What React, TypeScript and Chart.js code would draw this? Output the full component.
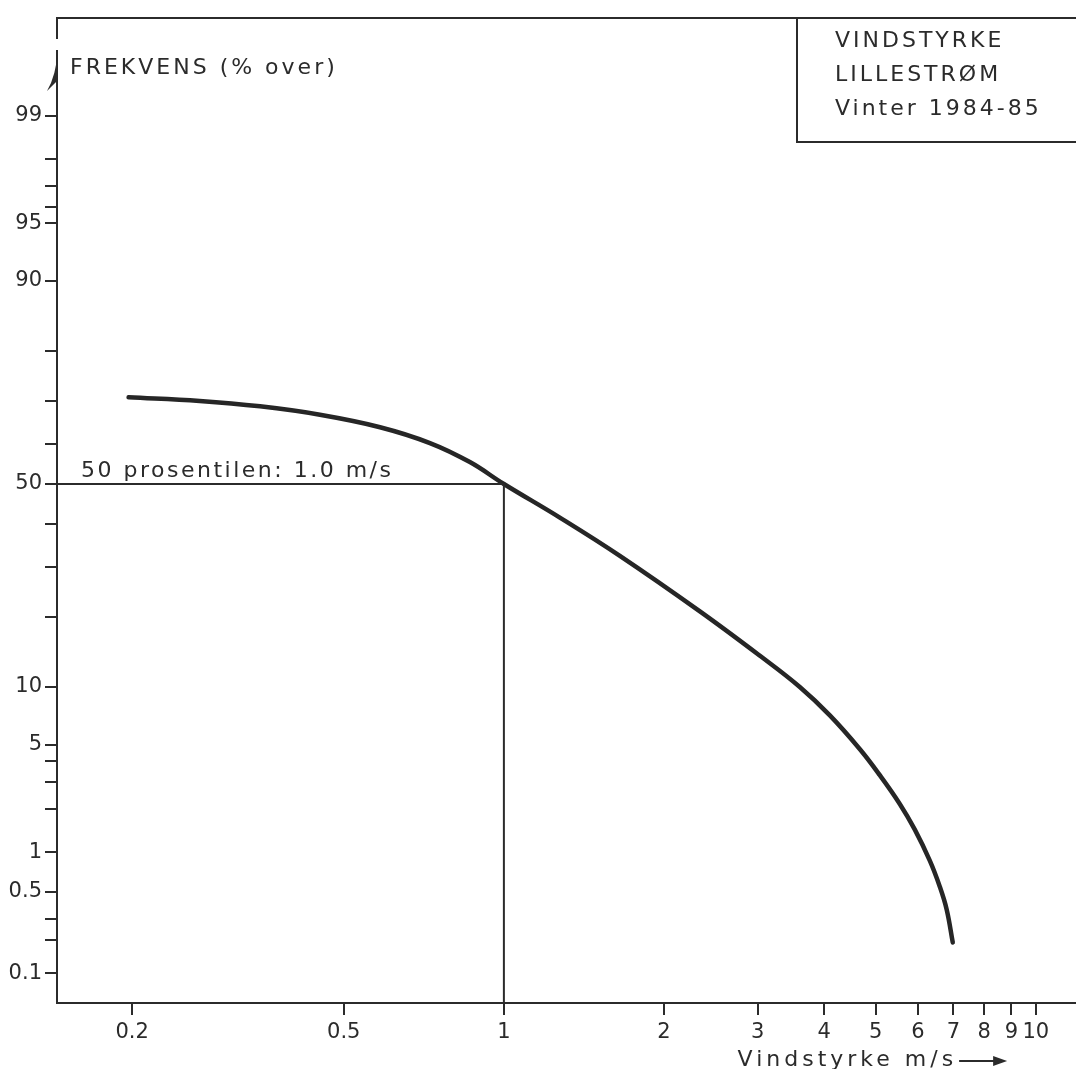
import React, { useEffect, useRef } from 'react';
import { Chart, Scale, registerables } from 'chart.js';

// ---------- data ----------
const windSpeed = [0.197, 0.268, 0.348, 0.451, 0.585, 0.726, 0.863, 1.0, 1.274, 1.652, 2.336, 3.03, 3.6, 4.1, 4.67, 5.09, 5.55, 5.92, 6.32, 6.6, 6.8, 6.98];
const frequencyOver = [70.8, 70.0, 68.8, 66.9, 64.0, 60.2, 55.5, 50, 41.6, 32.5, 21.06, 13.9, 10.0, 7.2, 4.7, 3.3, 2.17, 1.46, 0.87, 0.55, 0.36, 0.19];
const medianSpeed = 1.0;
const medianPercent = 50;

const xTickValues = [0.2, 0.5, 1, 2, 3, 4, 5, 6, 7, 8, 9, 10];
const xTickLabels = ['0.2', '0.5', '1', '2', '3', '4', '5', '6', '7', '8', '9', '10'];
const yTickValues = [0.1, 0.2, 0.3, 0.5, 1, 2, 3, 4, 5, 10, 20, 30, 40, 50, 60, 70, 80, 90, 95, 96, 97, 98, 99];
const yTickLabels = ['0.1', '', '', '0.5', '1', '', '', '', '5', '10', '', '', '', '50', '', '', '', '90', '95', '', '', '', '99'];

const xMin = 0.1445;
const xMax = 11.9;
const yMin = 0.0525;
const yMax = 99.837;

const titleLines = ['VINDSTYRKE', 'LILLESTRØM', 'Vinter 1984-85'];
const yAxisTitle = 'FREKVENS (% over)';
const xAxisTitle = 'Vindstyrke m/s';
const medianLabel = '50 prosentilen: 1.0 m/s';

const INK = '#2b2b2b';
const FONT = '"DejaVu Sans", sans-serif';

// ---------- normal probability helpers ----------
function probit(p: number): number {
  const a = [-3.969683028665376e1, 2.209460984245205e2, -2.759285104469687e2, 1.38357751867269e2, -3.066479806614716e1, 2.506628277459239];
  const b = [-5.447609879822406e1, 1.615858368580409e2, -1.556989798598866e2, 6.680131188771972e1, -1.328068155288572e1];
  const c = [-7.784894002430293e-3, -3.223964580411365e-1, -2.400758277161838, -2.549732539343734, 4.374664141464968, 2.938163982698783];
  const d = [7.784695709041462e-3, 3.224671290700398e-1, 2.445134137142996, 3.754408661907416];
  const pl = 0.02425;
  if (p <= 0) return -8;
  if (p >= 1) return 8;
  if (p < pl) {
    const q = Math.sqrt(-2 * Math.log(p));
    return (((((c[0] * q + c[1]) * q + c[2]) * q + c[3]) * q + c[4]) * q + c[5]) /
      ((((d[0] * q + d[1]) * q + d[2]) * q + d[3]) * q + 1);
  }
  if (p <= 1 - pl) {
    const q = p - 0.5;
    const r = q * q;
    return (((((a[0] * r + a[1]) * r + a[2]) * r + a[3]) * r + a[4]) * r + a[5]) * q /
      (((((b[0] * r + b[1]) * r + b[2]) * r + b[3]) * r + b[4]) * r + 1);
  }
  const q = Math.sqrt(-2 * Math.log(1 - p));
  return -(((((c[0] * q + c[1]) * q + c[2]) * q + c[3]) * q + c[4]) * q + c[5]) /
    ((((d[0] * q + d[1]) * q + d[2]) * q + d[3]) * q + 1);
}

function normCdf(z: number): number {
  const t = 1 / (1 + 0.2316419 * Math.abs(z));
  const poly = t * (0.31938153 + t * (-0.356563782 + t * (1.781477937 + t * (-1.821255978 + t * 1.330274429))));
  const pdf = Math.exp(-z * z / 2) / Math.sqrt(2 * Math.PI);
  const v = 1 - pdf * poly;
  return z >= 0 ? v : 1 - v;
}

class ProbitScale extends Scale {
  static id = 'probit';
  static defaults = {};
  _zMin = -3;
  _zMax = 3;

  determineDataLimits() {
    const { min, max } = (this as any).getMinMax(true);
    (this as any).min = Number.isFinite(min) ? min : 0.1;
    (this as any).max = Number.isFinite(max) ? max : 99.9;
  }
  buildTicks() {
    const self = this as any;
    const vals: number[] = (self.options.tickValues || []) as number[];
    return vals.filter((v) => v >= self.min && v <= self.max).sort((p, q) => p - q).map((v) => ({ value: v }));
  }
  configure() {
    super.configure();
    const self = this as any;
    this._zMin = probit(self.min / 100);
    this._zMax = probit(self.max / 100);
  }
  getLabelForValue(v: number) {
    return String(v);
  }
  getPixelForValue(v: number) {
    const z = probit(v / 100);
    return (this as any).getPixelForDecimal((z - this._zMin) / (this._zMax - this._zMin));
  }
  getValueForPixel(px: number) {
    const dec = (this as any).getDecimalForPixel(px);
    return 100 * normCdf(this._zMin + dec * (this._zMax - this._zMin));
  }
}

Chart.register(...registerables, ProbitScale as any);

// ---------- decorations ----------
const decorPlugin = {
  id: 'decor',
  afterDraw(chart: any) {
    const { ctx, chartArea: a, scales } = chart;
    const xs = scales.x;
    const ys = scales.y;
    ctx.save();
    ctx.strokeStyle = INK;
    ctx.fillStyle = INK;
    ctx.lineWidth = 2;

    // top frame line
    ctx.beginPath();
    ctx.moveTo(a.left - 1, a.top);
    ctx.lineTo(a.right, a.top);
    ctx.stroke();

    // gap and arrow head on the y axis
    ctx.fillStyle = '#ffffff';
    ctx.fillRect(a.left - 3, a.top + 21, 6, 11);
    ctx.fillStyle = INK;
    ctx.beginPath();
    ctx.moveTo(a.left + 1, a.top + 32);
    ctx.quadraticCurveTo(a.left - 1, a.top + 58, a.left - 10, a.top + 73);
    ctx.lineTo(a.left + 1, a.top + 62);
    ctx.closePath();
    ctx.fill();

    ctx.font = `22px ${FONT}`;
    (ctx as any).letterSpacing = '3px';
    ctx.textBaseline = 'middle';
    ctx.textAlign = 'left';

    // y axis title
    ctx.fillText(yAxisTitle, a.left + 13, a.top + 50);

    // median label
    const y50 = ys.getPixelForValue(medianPercent);
    ctx.textBaseline = 'alphabetic';
    (ctx as any).letterSpacing = '2.5px';
    ctx.fillText(medianLabel, a.left + 24, y50 - 7);

    // title box
    (ctx as any).letterSpacing = '3px';
    const boxLeft = a.right - 279;
    const boxBottom = a.top + 124;
    ctx.beginPath();
    ctx.moveTo(boxLeft, a.top);
    ctx.lineTo(boxLeft, boxBottom);
    ctx.lineTo(a.right, boxBottom);
    ctx.stroke();
    ctx.textBaseline = 'middle';
    titleLines.forEach((t, i) => {
      ctx.fillText(t, boxLeft + 38, a.top + 23 + i * 34);
    });

    // x axis title with arrow
    (ctx as any).letterSpacing = '4px';
    const tx = xs.getPixelForValue(2.75);
    const ty = a.bottom + 57;
    ctx.fillText(xAxisTitle, tx, ty);
    const w = ctx.measureText(xAxisTitle).width;
    const ax0 = tx + w + 2;
    const ax1 = ax0 + 48;
    ctx.beginPath();
    ctx.moveTo(ax0, ty + 1);
    ctx.lineTo(ax1 - 10, ty + 1);
    ctx.stroke();
    ctx.beginPath();
    ctx.moveTo(ax1, ty + 1);
    ctx.lineTo(ax1 - 14, ty - 4);
    ctx.lineTo(ax1 - 14, ty + 6);
    ctx.closePath();
    ctx.fill();
    ctx.restore();
  },
};

export default function App() {
  const ref = useRef<HTMLCanvasElement>(null);
  useEffect(() => {
    document.body.style.margin = '0';
    const curve = windSpeed.map((x, i) => ({ x, y: frequencyOver[i] }));
    const guide = [
      { x: xMin, y: medianPercent },
      { x: medianSpeed, y: medianPercent },
      { x: medianSpeed, y: yMin },
    ];
    const chart = new Chart(ref.current as HTMLCanvasElement, {
      type: 'line',
      data: {
        datasets: [
          {
            label: 'guide',
            data: guide,
            borderColor: INK,
            borderWidth: 2,
            pointRadius: 0,
            tension: 0,
          },
          {
            label: 'Vindstyrke',
            data: curve,
            borderColor: '#262626',
            borderWidth: 4.5,
            pointRadius: 0,
            tension: 0.4,
            borderCapStyle: 'round',
            borderJoinStyle: 'round',
          },
        ],
      },
      options: {
        animation: false,
        responsive: false,
        events: [],
        layout: { padding: { top: 18, left: 0, right: 0, bottom: 0 } },
        plugins: { legend: { display: false }, tooltip: { enabled: false }, title: { display: false } },
        scales: {
          x: {
            type: 'logarithmic',
            min: xMin,
            max: xMax,
            afterBuildTicks: (s: any) => {
              s.ticks = xTickValues.map((v) => ({ value: v }));
            },
            afterFit: (s: any) => {
              s.height = 66;
            },
            ticks: {
              autoSkip: false,
              maxRotation: 0,
              padding: 5,
              color: INK,
              font: { family: FONT, size: 21 },
              callback: (_v: any, i: number) => xTickLabels[i],
            },
            grid: { drawOnChartArea: false, drawTicks: true, tickLength: 12, color: INK, lineWidth: 2 },
            border: { display: true, color: INK, width: 2 },
          },
          y: {
            type: 'probit' as any,
            min: yMin,
            max: yMax,
            tickValues: yTickValues,
            afterFit: (s: any) => {
              s.width = 57;
            },
            ticks: {
              autoSkip: false,
              padding: 3,
              color: INK,
              font: { family: FONT, size: 21 },
              callback: (v: any) => {
                const k = yTickValues.indexOf(Number(v));
                return k >= 0 ? yTickLabels[k] : '';
              },
            },
            grid: { drawOnChartArea: false, drawTicks: true, tickLength: 12, color: INK, lineWidth: 2 },
            border: { display: true, color: INK, width: 2 },
          } as any,
        },
      },
      plugins: [decorPlugin],
    } as any);
    return () => chart.destroy();
  }, []);
  return (
    <div style={{ width: 1076, height: 1069, background: '#fff' }}>
      <canvas ref={ref} width={1076} height={1069} style={{ display: 'block' }} />
    </div>
  );
}
